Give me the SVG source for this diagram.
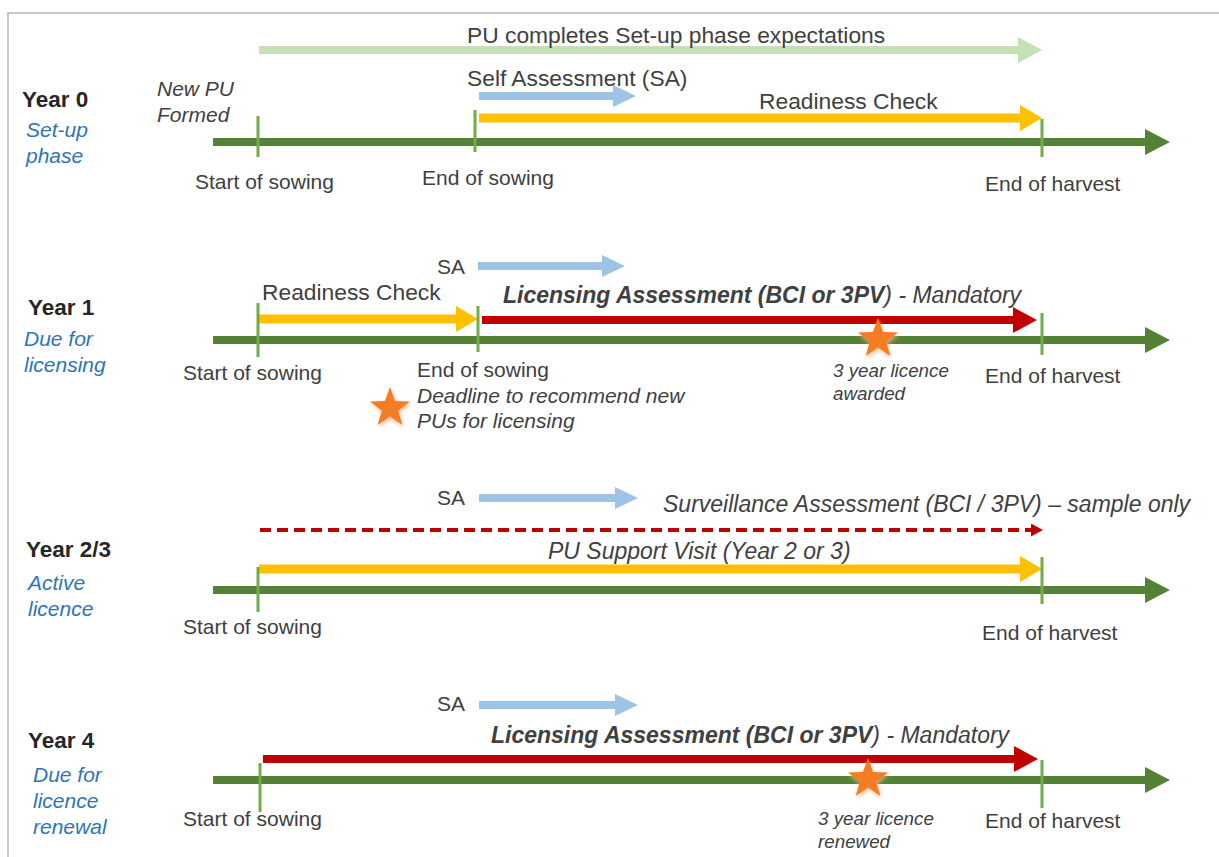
<svg xmlns="http://www.w3.org/2000/svg" width="1219" height="857" viewBox="0 0 1219 857">
<style>
text{font-family:"Liberation Sans",Arial,sans-serif;fill:#404040}
.lbl{font-size:21px}
.lbl2{font-size:22.8px}
.it{font-size:23px;font-style:italic}
.it2{font-size:21px;font-style:italic}
.yr{font-size:22.5px;font-weight:bold;fill:#262626}
.ph{font-size:21px;font-style:italic;fill:#2E75B6}
.sm{font-size:18.8px;font-style:italic}
.lic{font-size:23px;font-style:italic}
.b{font-weight:bold}
.main{stroke:#548235;stroke-width:8;fill:none}
.tick{stroke:#70AD47;stroke-width:3;fill:none}
.yel{stroke:#FFC000;stroke-width:9;fill:none}
.blu{stroke:#9DC3E6;stroke-width:8;fill:none}
.lg{stroke:#C5E0B4;stroke-width:8;fill:none}
.red{stroke:#C00000;stroke-width:8;fill:none}
.dash{stroke:#C00000;stroke-width:4;stroke-dasharray:11 6;fill:none}
.star{fill:#F47B20}
</style>
<defs>
<marker id="hGreen" markerUnits="userSpaceOnUse" markerWidth="25" markerHeight="26" refX="0" refY="13" orient="auto"><path d="M0,0 L25,13 L0,26 z" fill="#548235"/></marker>
<marker id="hYel" markerUnits="userSpaceOnUse" markerWidth="22" markerHeight="26" refX="0" refY="13" orient="auto"><path d="M0,0 L22,13 L0,26 z" fill="#FFC000"/></marker>
<marker id="hBlu" markerUnits="userSpaceOnUse" markerWidth="23" markerHeight="22" refX="0" refY="11" orient="auto"><path d="M0,0 L23,11 L0,22 z" fill="#9DC3E6"/></marker>
<marker id="hLg" markerUnits="userSpaceOnUse" markerWidth="24" markerHeight="26" refX="0" refY="13" orient="auto"><path d="M0,0 L24,13 L0,26 z" fill="#C5E0B4"/></marker>
<marker id="hRed" markerUnits="userSpaceOnUse" markerWidth="24" markerHeight="26" refX="0" refY="13" orient="auto"><path d="M0,0 L24,13 L0,26 z" fill="#C00000"/></marker>
<marker id="hDash" markerUnits="userSpaceOnUse" markerWidth="12" markerHeight="13" refX="0" refY="6.5" orient="auto"><path d="M0,0 L12,6.5 L0,13 z" fill="#C00000"/></marker>
<polygon id="starShape" points="0,-21 5.05,-6.95 19.97,-6.49 8.17,2.65 12.34,16.99 0,8.59 -12.34,16.99 -8.17,2.65 -19.97,-6.49 -5.05,-6.95"/>
<filter id="glow" x="-50%" y="-50%" width="200%" height="200%">
<feGaussianBlur in="SourceAlpha" stdDeviation="2"/>
<feOffset dx="1" dy="2" result="b"/>
<feFlood flood-color="#F6B183" flood-opacity="0.9"/>
<feComposite operator="in" in2="b"/>
<feMerge><feMergeNode/><feMergeNode in="SourceGraphic"/></feMerge>
</filter>
</defs>
<path d="M8,857 L8,13 L1219,13" fill="none" stroke="#C8C8C8" stroke-width="2"/>

<g id="connectors">
<line class="lg" x1="259" y1="50" x2="1018" y2="50" marker-end="url(#hLg)"/>
<line class="blu" x1="479" y1="96" x2="613" y2="96" marker-end="url(#hBlu)"/>
<line class="yel" x1="479" y1="118" x2="1020" y2="118" marker-end="url(#hYel)"/>
<line class="main" x1="213" y1="142" x2="1145" y2="142" marker-end="url(#hGreen)"/>
<line class="tick" x1="258" y1="116" x2="258" y2="157"/>
<line class="tick" x1="475" y1="110" x2="475" y2="152"/>
<line class="tick" x1="1042" y1="119" x2="1042" y2="157"/>
<line class="blu" x1="478" y1="266" x2="602" y2="266" marker-end="url(#hBlu)"/>
<line class="yel" x1="258" y1="319" x2="456" y2="319" marker-end="url(#hYel)"/>
<line class="red" x1="482" y1="320" x2="1013" y2="320" marker-end="url(#hRed)"/>
<line class="main" x1="213" y1="340" x2="1145" y2="340" marker-end="url(#hGreen)"/>
<line class="tick" x1="258" y1="303" x2="258" y2="357"/>
<line class="tick" x1="478" y1="306" x2="478" y2="352"/>
<line class="tick" x1="1042" y1="313" x2="1042" y2="355"/>
<line class="blu" x1="479" y1="498" x2="615" y2="498" marker-end="url(#hBlu)"/>
<line class="dash" x1="260" y1="530" x2="1031" y2="530" marker-end="url(#hDash)"/>
<line class="yel" x1="259" y1="569" x2="1020" y2="569" marker-end="url(#hYel)"/>
<line class="main" x1="213" y1="590" x2="1145" y2="590" marker-end="url(#hGreen)"/>
<line class="tick" x1="258" y1="567" x2="258" y2="612"/>
<line class="tick" x1="1042" y1="557" x2="1042" y2="604"/>
<line class="blu" x1="479" y1="705" x2="615" y2="705" marker-end="url(#hBlu)"/>
<line class="red" x1="263" y1="759" x2="1014" y2="759" marker-end="url(#hRed)"/>
<line class="main" x1="213" y1="780" x2="1145" y2="780" marker-end="url(#hGreen)"/>
<line class="tick" x1="260" y1="763" x2="260" y2="812"/>
<line class="tick" x1="1042" y1="760" x2="1042" y2="808"/>
</g>

<g id="year0">
<text class="yr" x="22" y="107">Year 0</text>
<text class="ph" x="26" y="137">Set-up</text>
<text class="ph" x="26" y="163">phase</text>
<text class="it2" x="157" y="96">New PU</text>
<text class="it2" x="157" y="122">Formed</text>
<text class="lbl2" x="467" y="43">PU completes Set-up phase expectations</text>
<text class="lbl2" x="467" y="86">Self Assessment (SA)</text>
<text class="lbl2" x="759" y="109">Readiness Check</text>
<text class="lbl" x="195" y="189">Start of sowing</text>
<text class="lbl" x="422" y="185">End of sowing</text>
<text class="lbl" x="985" y="191">End of harvest</text>
</g>

<g id="year1">
<text class="yr" x="28" y="315">Year 1</text>
<text class="ph" x="24" y="346">Due for</text>
<text class="ph" x="24" y="372">licensing</text>
<text class="lbl" x="437" y="274">SA</text>
<text class="lbl2" x="262" y="300">Readiness Check</text>
<text class="lic" x="503" y="303"><tspan class="b">Licensing Assessment (BCI or 3PV</tspan>) - Mandatory</text>
<use href="#starShape" class="star" x="878" y="339" filter="url(#glow)"/>
<use href="#starShape" class="star" x="390" y="408" filter="url(#glow)"/>
<text class="lbl" x="183" y="380">Start of sowing</text>
<text class="lbl" x="417" y="377">End of sowing</text>
<text class="it2" x="417" y="403">Deadline to recommend new</text>
<text class="it2" x="417" y="428">PUs for licensing</text>
<text class="sm" x="833" y="377">3 year licence</text>
<text class="sm" x="833" y="400">awarded</text>
<text class="lbl" x="985" y="383">End of harvest</text>
</g>

<g id="year23">
<text class="yr" x="26" y="557">Year 2/3</text>
<text class="ph" x="28" y="590">Active</text>
<text class="ph" x="28" y="616">licence</text>
<text class="lbl" x="437" y="505">SA</text>
<text class="it" x="663" y="512">Surveillance Assessment (BCI / 3PV) – sample only</text>
<text class="it" x="548" y="559">PU Support Visit (Year 2 or 3)</text>
<text class="lbl" x="183" y="634">Start of sowing</text>
<text class="lbl" x="982" y="640">End of harvest</text>
</g>

<g id="year4">
<text class="yr" x="28" y="748">Year 4</text>
<text class="ph" x="33" y="782">Due for</text>
<text class="ph" x="33" y="808">licence</text>
<text class="ph" x="33" y="834">renewal</text>
<text class="lbl" x="437" y="711">SA</text>
<text class="lic" x="491" y="743"><tspan class="b">Licensing Assessment (BCI or 3PV</tspan>) - Mandatory</text>
<use href="#starShape" class="star" x="868" y="779" filter="url(#glow)"/>
<text class="sm" x="818" y="825">3 year licence</text>
<text class="sm" x="818" y="848">renewed</text>
<text class="lbl" x="183" y="826">Start of sowing</text>
<text class="lbl" x="985" y="828">End of harvest</text>
</g>
</svg>
